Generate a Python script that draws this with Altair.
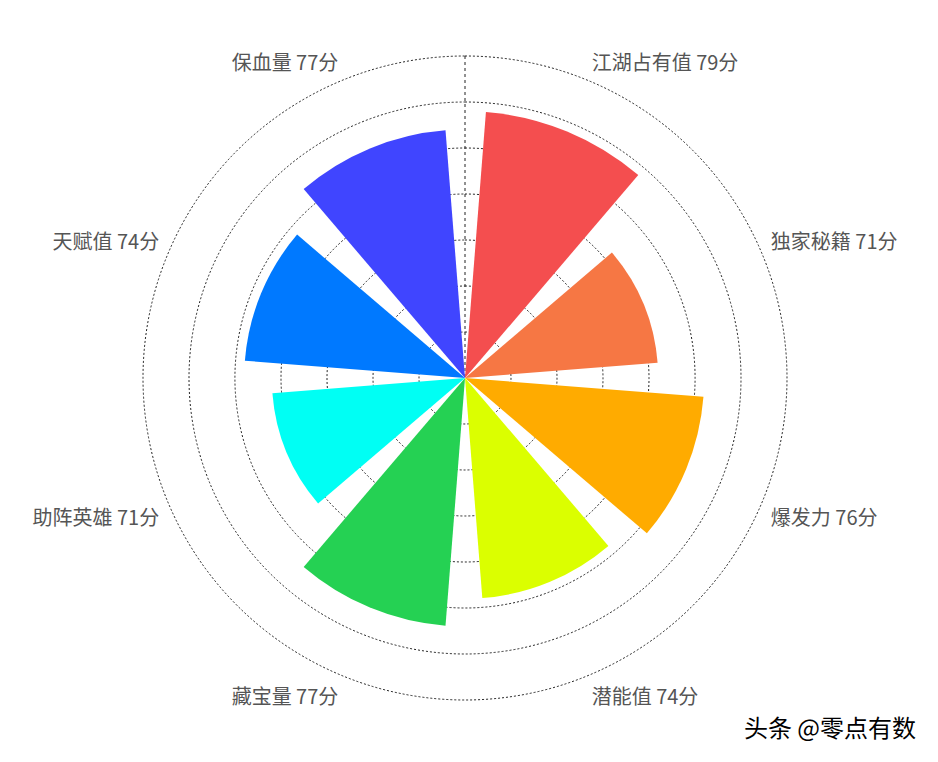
import math
import altair as alt
import pandas as pd

categories = ["江湖占有值", "独家秘籍", "爆发力", "潜能值", "藏宝量", "助阵英雄", "天赋值", "保血量"]
values = [79, 71, 76, 74, 77, 71, 74, 77]
colors = ["#F44E4F", "#F67744", "#FFAB00", "#DBFF00", "#25D153", "#00FFF4", "#0079FF", "#4045FF"]
ring_values = [55, 60, 65, 70, 75, 80, 85]

W, H = 914, 740
R_OUT = 322
SECTOR = 360 / len(categories)
GAP = 4.5

df = pd.DataFrame({
    "cat": categories,
    "value": values,
    "idx": list(range(len(categories))),
    "color": colors,
})
df["label"] = [f"{c} {v}分" for c, v in zip(categories, values)]
df["t0"] = df["idx"] * SECTOR + GAP
df["t1"] = (df["idx"] + 1) * SECTOR - GAP
df["tc"] = (df["idx"] + 0.5) * SECTOR

rings = pd.DataFrame({"r": ring_values})

theta_scale = alt.Scale(domain=[0, 360], range=[0, 2 * math.pi])
r_scale = alt.Scale(type="linear", domain=[50, 85], range=[0, R_OUT], zero=False)

ring_layer = alt.Chart(rings).mark_arc(
    filled=False, stroke="#222222", strokeWidth=1, strokeDash=[2, 2]
).encode(
    theta=alt.value(0),
    theta2=alt.value(2 * math.pi),
    radius=alt.Radius("r:Q", scale=r_scale, stack=False),
)

axis_line = alt.Chart(rings).transform_filter("datum.r == 85").mark_rule(
    stroke="#222222", strokeWidth=1, strokeDash=[3, 3]
).encode(
    x=alt.value(W / 2),
    y=alt.value(H / 2 - R_OUT),
    y2=alt.value(H / 2),
)

bars = alt.Chart(df).mark_arc().encode(
    theta=alt.Theta("t0:Q", scale=theta_scale, stack=False),
    theta2="t1:Q",
    radius=alt.Radius("value:Q", scale=r_scale, stack=False),
    color=alt.Color("color:N", scale=None),
)

def label_layer(idxs, align, baseline, dy):
    return alt.Chart(df).transform_filter(
        alt.FieldOneOfPredicate(field="idx", oneOf=idxs)
    ).mark_text(
        align=align, baseline=baseline, font="Noto Sans CJK SC",
        fontSize=20, color="#555555", dy=dy
    ).encode(
        theta=alt.Theta("tc:Q", scale=theta_scale, stack=False),
        radius=alt.value(R_OUT + 9),
        text="label:N",
    )

labels = [
    label_layer([0, 1], "left", "bottom", 2),
    label_layer([2, 3], "left", "top", 4),
    label_layer([4, 5], "right", "top", 4),
    label_layer([6, 7], "right", "bottom", 2),
]

watermark = alt.Chart(rings).transform_filter("datum.r == 55").mark_text(
    text="头条 @零点有数", align="right", baseline="middle",
    font="Noto Sans CJK SC", fontSize=24, fontWeight=400, color="#000000"
).encode(
    x=alt.value(W - 6),
    y=alt.value(H - 18),
)

chart = alt.layer(ring_layer, axis_line, bars, *labels, watermark).properties(
    width=W, height=H, padding=0, autosize=alt.AutoSizeParams(type="none")
).configure_view(stroke=None)

chart.save("out.html", embed_options={"renderer": "svg", "actions": False})
